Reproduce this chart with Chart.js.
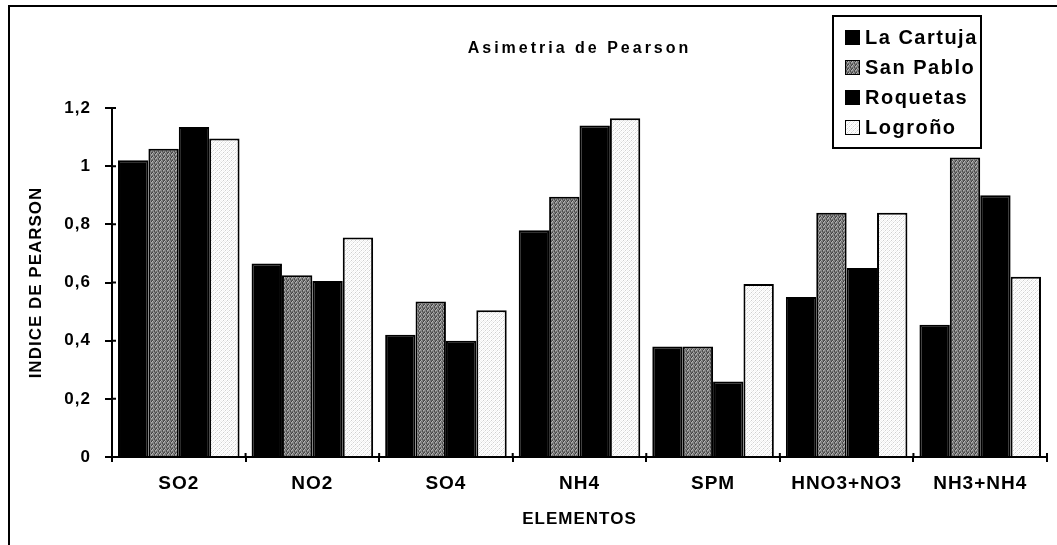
<!DOCTYPE html>
<html>
<head>
<meta charset="utf-8">
<script src="https://cdn.jsdelivr.net/npm/chart.js@4"></script>
<style>
html,body{margin:0;padding:0;background:#fff;}
#wrap{position:relative;width:1057px;height:545px;}
</style>
</head>
<body>
<div id="wrap"><canvas id="c" width="1057" height="545"></canvas></div>
<script>
const categories = ['SO2', 'NO2', 'SO4', 'NH4', 'SPM', 'HNO3+NO3', 'NH3+NH4'];
const seriesNames = ['La Cartuja', 'San Pablo', 'Roquetas', 'Logroño'];
const laCartuja = [1.02, 0.665, 0.42, 0.78, 0.38, 0.55, 0.455];
const sanPablo  = [1.06, 0.625, 0.535, 0.895, 0.38, 0.84, 1.03];
const roquetas  = [1.135, 0.605, 0.40, 1.14, 0.26, 0.65, 0.90];
const logrono   = [1.095, 0.755, 0.505, 1.165, 0.595, 0.84, 0.62];
const yTickLabels = ['0', '0,2', '0,4', '0,6', '0,8', '1', '1,2'];
const chartTitle = 'Asimetria de Pearson';
const xTitle = 'ELEMENTOS';
const yTitle = 'INDICE DE PEARSON';

const FONT = "'Liberation Sans', Arial, sans-serif";

function makePattern(cells, size) {
  const c = document.createElement('canvas');
  c.width = size; c.height = size;
  const x = c.getContext('2d');
  for (let i = 0; i < size; i++) {
    for (let j = 0; j < size; j++) {
      x.fillStyle = cells[(i * size + j) % cells.length];
      x.fillRect(j, i, 1, 1);
    }
  }
  return x.createPattern(c, 'repeat');
}
const grayCells = ['#4a4a4a','#a8a8a8','#7a7a7a','#5c5c5c','#b4b4b4','#6a6a6a','#8a8a8a','#3e3e3e','#989898','#7e7e7e','#505050','#acacac','#646464','#888888','#4e4e4e','#909090'];
const lightCells = ['#ffffff','#f4f4f4','#ffffff','#cfcfcf','#f0f0f0','#ffffff','#e6e6e6','#ffffff','#ffffff','#d4d4d4','#ffffff','#f2f2f2','#e8e8e8','#ffffff','#fafafa','#ffffff'];
const grayPat = makePattern(grayCells, 4);
const lightPat = makePattern(lightCells, 4);

const fills = ['#000000', grayPat, '#000000', lightPat];
const legendFills = ['#000000', grayPat, '#000000', lightPat];

const spacingPlugin = {
  id: 'spacing',
  beforeUpdate(chart) { chart.ctx.letterSpacing = '1px'; },
  beforeDraw(chart) { chart.ctx.letterSpacing = '1px'; }
};

const decorPlugin = {
  id: 'decor',
  afterDraw(chart) {
    const ctx = chart.ctx;
    const xs = chart.scales.x, ys = chart.scales.y;
    ctx.save();
    ctx.strokeStyle = '#000';
    ctx.lineWidth = 2;
    // frame
    ctx.beginPath();
    ctx.moveTo(9, 545); ctx.lineTo(9, 6); ctx.lineTo(1057, 6);
    ctx.stroke();
    // inner halves of ticks
    ctx.beginPath();
    const n = chart.data.labels.length;
    for (let i = 0; i <= n; i++) {
      const px = xs.getPixelForValue(i - 0.5);
      ctx.moveTo(px, xs.top); ctx.lineTo(px, xs.top - 4);
    }
    ys.ticks.forEach((t) => {
      const py = ys.getPixelForValue(t.value);
      ctx.moveTo(ys.right, py); ctx.lineTo(ys.right + 4, py);
    });
    ctx.stroke();
    // title
    ctx.letterSpacing = '3px';
    ctx.fillStyle = '#000';
    ctx.font = 'bold 16px ' + FONT;
    ctx.textAlign = 'center';
    ctx.textBaseline = 'middle';
    ctx.fillText(chartTitle, (chart.chartArea.left + chart.chartArea.right) / 2, 49);
    // legend
    const bx = 833, by = 16, bw = 148, bh = 132;
    ctx.fillStyle = '#fff';
    ctx.fillRect(bx, by, bw, bh);
    ctx.strokeRect(bx, by, bw, bh);
    ctx.letterSpacing = '1.5px';
    ctx.font = 'bold 20px ' + FONT;
    ctx.textAlign = 'left';
    chart.data.datasets.forEach((ds, i) => {
      const cy = 37 + i * 30;
      ctx.fillStyle = legendFills[i];
      ctx.fillRect(845, cy - 7, 15, 15);
      ctx.lineWidth = 1;
      ctx.strokeStyle = '#000';
      ctx.strokeRect(845.5, cy - 6.5, 14, 14);
      ctx.fillStyle = '#000';
      ctx.fillText(ds.label, 865, cy + 1);
    });
    ctx.restore();
  }
};

new Chart(document.getElementById('c'), {
  type: 'bar',
  data: {
    labels: categories,
    datasets: [
      { label: seriesNames[0], data: laCartuja },
      { label: seriesNames[1], data: sanPablo },
      { label: seriesNames[2], data: roquetas },
      { label: seriesNames[3], data: logrono }
    ].map((d, i) => Object.assign(d, {
      backgroundColor: fills[i],
      borderColor: '#000',
      borderWidth: 2,
      categoryPercentage: 0.91,
      barPercentage: 1.0
    }))
  },
  options: {
    responsive: false,
    animation: false,
    devicePixelRatio: 1,
    layout: { padding: { top: 108, right: 10, left: 0, bottom: 0 } },
    plugins: {
      legend: { display: false },
      title: { display: false },
      tooltip: { enabled: false }
    },
    scales: {
      x: {
        grid: { display: true, drawOnChartArea: false, drawTicks: true, tickLength: 5, color: '#000', lineWidth: 2, offset: true },
        border: { display: true, color: '#000', width: 2 },
        ticks: { color: '#000', font: { family: FONT, size: 19, weight: 'bold' }, padding: 10, maxRotation: 0 },
        title: { display: true, text: xTitle, color: '#000', font: { family: FONT, size: 17, weight: 'bold' }, padding: { top: 0, bottom: 15 } },
        afterFit(scale) { scale.height = 88; }
      },
      y: {
        min: 0, max: 1.2,
        grid: { display: true, drawOnChartArea: false, drawTicks: true, tickLength: 7, color: '#000', lineWidth: 2 },
        border: { display: true, color: '#000', width: 2 },
        ticks: {
          stepSize: 0.2, color: '#000', padding: 14,
          font: { family: FONT, size: 17, weight: 'bold' },
          callback: (v, i) => yTickLabels[i]
        },
        title: { display: true, text: yTitle, color: '#000', font: { family: FONT, size: 17, weight: 'bold' }, padding: { top: 26, bottom: 0 } },
        afterFit(scale) { scale.width = 112; }
      }
    }
  },
  plugins: [spacingPlugin, decorPlugin]
});
</script>
</body>
</html>
